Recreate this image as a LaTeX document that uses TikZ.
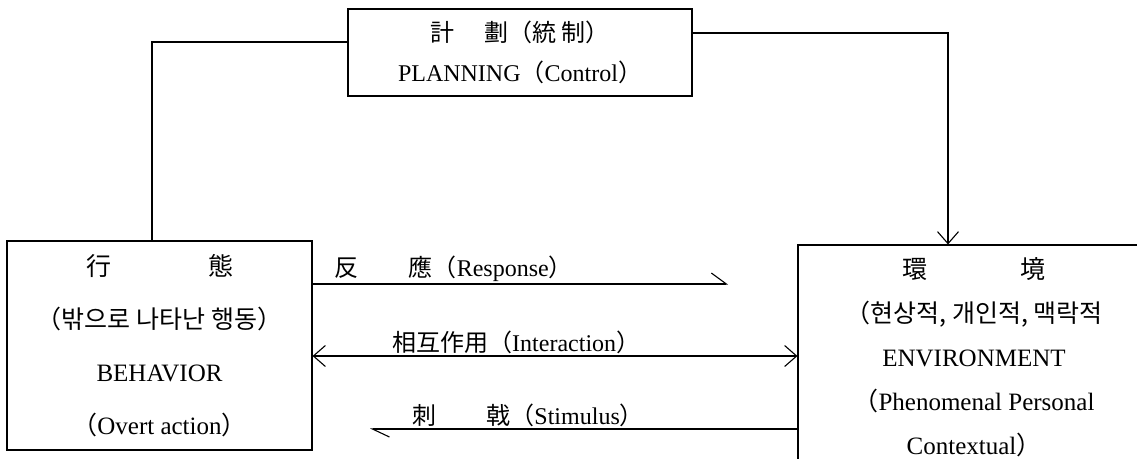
\documentclass[tikz,border=0pt]{standalone}
\usepackage{fontspec}
\setmainfont{Liberation Serif}
\newfontfamily\kr{Noto Sans CJK KR}
\usetikzlibrary{arrows.meta}

\begin{document}
\begin{tikzpicture}[x=1pt,y=-1pt,line width=1.1pt,
        box/.style={draw,rectangle,inner sep=0pt,align=center},
        barb/.tip={Straight Barb[length=12pt,width=21pt]},
        font=\fontsize{24}{28}\selectfont]
    \useasboundingbox (0,0) rectangle (1137,458);
    \clip (0,0) rectangle (1137,458);

    \node[box,minimum width=344pt,minimum height=87pt,font=\fontsize{24}{40}\selectfont] (plan) at (520,52.5)
        {{\kr 計}\hspace{30pt}{\kr 劃（統 制）}\\PLANNING{\kr（}Control{\kr）}};
    \node[box,minimum width=305pt,minimum height=209pt,font=\fontsize{25}{53}\selectfont] (beh) at (159.5,345.5)
        {{\kr 行}\hspace{97pt}{\kr 態}\\{\kr（밖으로 나타난 행동）}\\BEHAVIOR\\{\kr（}Overt action{\kr）}};
    \node[box,minimum width=352pt,minimum height=224pt,font=\fontsize{25}{44}\selectfont] (env) at (974,357)
        {{\kr 環}\hspace{93pt}{\kr 境}\\{\kr（현상적, 개인적, 맥락적}\\ENVIRONMENT\\{\kr（}Phenomenal Personal\\Contextual{\kr）}};

    \coordinate (respend) at (728,284);
    \coordinate (stimend) at (370,429);

    \draw ([yshift=10.5pt]plan.west) -| ([xshift=-7.5pt]beh.north);
    \draw[-barb] ([yshift=19.5pt]plan.east) -| ([xshift=-26pt]env.north);

    \draw[-{Straight Barb[left,length=15pt,width=22pt]}] (respend -| beh.east) -- (respend)
        node[above,pos=0.34,inner sep=2pt] (lresp) {{\kr 反}\hspace{50pt}{\kr 應（}Response{\kr）}};
    \draw[barb-barb] ([yshift=-10.5pt]beh.east) -- ([yshift=-10.5pt]beh.east -| env.west)
        node[above,pos=0.42,inner sep=2pt] (linter) {{\kr 相互作用（}Interaction{\kr）}};
    \draw[-{Straight Barb[left,length=17pt,width=16pt]}] (stimend -| env.west) -- (stimend)
        node[above,pos=0.63,inner sep=2pt] (lstim) {{\kr 刺}\hspace{50pt}{\kr 戟（}Stimulus{\kr）}};
\end{tikzpicture}
\end{document}
